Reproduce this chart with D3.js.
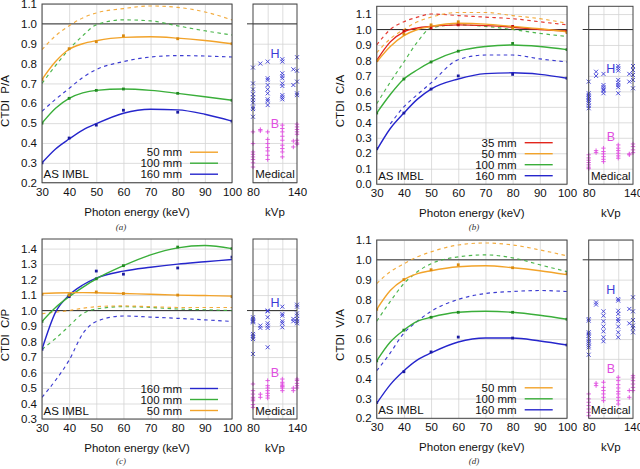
<!DOCTYPE html>
<html><head><meta charset="utf-8">
<script src="https://cdn.jsdelivr.net/npm/d3@7"></script>
<style>
body{margin:0;background:#fff}
svg{display:block}
text{font-family:"Liberation Sans",Arial,sans-serif;font-size:11.5px;fill:#111}
</style>
</head><body>
<svg id="chart" width="640" height="469"></svg>
<script>
// ---------- data ----------
const energyFit = [30, 35, 40, 45, 50, 60, 70, 80, 90, 100];
const energyPts = [30, 40, 50, 60, 80, 100];
const medKvp = [80, 90, 100, 120, 135, 140];
const xTicks = [30, 40, 50, 60, 70, 80, 90, 100];
const kvpTicks = [80, 140];
const kvpGrid = [100, 120];

// panel (a) CTDI P/A
const aFit50  = [0.72, 0.81, 0.872, 0.90, 0.915, 0.932, 0.935, 0.928, 0.916, 0.90];
const aDash50 = [0.87, 0.94, 0.99, 1.03, 1.055, 1.077, 1.09, 1.083, 1.06, 1.02];
const aFit100 = [0.50, 0.575, 0.625, 0.652, 0.665, 0.672, 0.665, 0.65, 0.633, 0.615];
const aDash100= [0.70, 0.79, 0.872, 0.94, 0.995, 1.02, 1.015, 0.99, 0.965, 0.944];
const aFit160 = [0.30, 0.37, 0.42, 0.465, 0.497, 0.55, 0.57, 0.567, 0.545, 0.51];
const aDash160= [0.56, 0.62, 0.675, 0.73, 0.77, 0.81, 0.833, 0.84, 0.838, 0.833];
const aPts50  = [0.72, 0.875, 0.91, 0.94, 0.925, 0.90];
const aPts100 = [0.50, 0.625, 0.665, 0.672, 0.65, 0.615];
const aPts160 = [0.30, 0.425, 0.49, 0.565, 0.555, 0.51];
const aMedH = [[0.78,0.70,0.67,0.646,0.63,0.616,0.603,0.579,0.571,0.532],[0.80],[0.81,0.726,0.717,0.692,0.67,0.65,0.62,0.611,0.591],[0.822,0.81,0.751,0.737,0.726,0.70,0.687,0.641,0.63,0.62],[0.771,0.692],[0.832,0.764,0.709,0.65,0.641]];
const aMedB = [[0.456,0.397,0.355,0.343,0.33,0.317,0.30,0.279],[0.468,0.461],[0.456,0.418,0.397,0.377,0.36,0.338,0.317],[0.49,0.473,0.456,0.434,0.414,0.389,0.372,0.355,0.33],[0.41,0.38],[0.495,0.481,0.468,0.456,0.444,0.414,0.40,0.394]];
const aYTicks = [0.2,0.3,0.4,0.5,0.6,0.7,0.8,0.9,1.0,1.1];

// panel (b) CTDI C/A
const bFit35  = [0.80, 0.92, 0.985, 1.01, 1.02, 1.03, 1.025, 1.015, 1.0, 0.99];
const bDash35 = [0.90, 1.0, 1.05, 1.08, 1.10, 1.09, 1.08, 1.07, 1.05, 1.03];
const bFit50  = [0.79, 0.89, 0.96, 1.0, 1.02, 1.04, 1.035, 1.02, 1.005, 0.985];
const bDash50 = [0.85, 0.94, 1.0, 1.05, 1.08, 1.11, 1.11, 1.09, 1.07, 1.04];
const bFit100 = [0.46, 0.58, 0.68, 0.74, 0.79, 0.86, 0.89, 0.90, 0.89, 0.87];
const bDash100= [0.52, 0.66, 0.79, 0.92, 1.01, 1.03, 1.02, 1.0, 0.975, 0.955];
const bFit160 = [0.22, 0.36, 0.46, 0.55, 0.615, 0.68, 0.715, 0.72, 0.71, 0.685];
const bDash160= [null, 0.39, 0.50, 0.58, 0.655, 0.805, 0.835, 0.835, 0.81, 0.79];
const bPts35  = [0.80, 0.99, 1.01, 1.03, 1.02, 0.99];
const bPts50  = [0.80, 0.97, 1.03, 1.05, 1.01, 0.98];
const bPts100 = [0.46, 0.68, 0.79, 0.86, 0.91, 0.87];
const bPts160 = [0.23, 0.46, 0.615, 0.70, 0.71, 0.685];
const bMedH = [[0.663,0.588,0.577,0.566,0.556,0.545,0.534,0.523,0.506,0.491],[0.727,0.70],[0.713,0.641,0.627,0.614,0.605,0.588],[0.764,0.749,0.734,0.674,0.656,0.641,0.627,0.588],[0.713,0.663],[0.764,0.738,0.706,0.674,0.62]];
const bMedB = [[0.19,0.17,0.155,0.14,0.125,0.11,0.10],[0.217,0.204],[0.233,0.211,0.196,0.178,0.161,0.146],[0.254,0.233,0.217,0.20,0.183,0.168],[0.196,0.19],[0.26,0.243,0.222,0.204]];
const bYTicks = [0.0,0.1,0.2,0.3,0.4,0.5,0.6,0.7,0.8,0.9,1.0,1.1];

// panel (c) CTDI C/P
const cFit160 = [0.75, 0.99, 1.10, 1.165, 1.21, 1.255, 1.28, 1.30, 1.315, 1.33];
const cDash160= [0.44, 0.55, 0.68, 0.85, 0.93, 0.965, 0.958, 0.95, 0.94, 0.93];
const cFit100 = [0.93, 1.02, 1.09, 1.15, 1.205, 1.29, 1.36, 1.405, 1.42, 1.40];
const cDash100= [0.75, 0.82, 0.90, 0.98, 1.01, 1.025, 1.02, 1.01, 1.005, 1.0];
const cFit50  = [1.11, 1.113, 1.115, 1.116, 1.115, 1.11, 1.105, 1.10, 1.097, 1.093];
const cDash50 = [0.98, 0.99, 1.0, 1.015, 1.025, 1.03, 1.025, 1.02, 1.02, 1.02];
const cPts160 = [0.75, 1.09, 1.255, 1.235, 1.275, 1.345];
const cPts100 = [0.93, 1.10, 1.205, 1.29, 1.41, 1.40];
const cPts50  = [1.105, 1.10, 1.12, 1.11, 1.10, 1.09];
const cMedH = [[0.957,0.946,0.936,0.931,0.924,0.849,0.838,0.827,0.816,0.72],[0.903,0.888],[1.0,0.995,0.957,0.918,0.903,0.888,0.763],[1.025,0.978,0.967,0.931,0.918,0.892],[0.946,0.931],[1.038,1.025,0.982,0.967,0.946,0.931,0.918]];
const cMedB = [[0.526,0.483,0.461,0.44,0.429,0.418,0.393,0.375],[0.46,0.44],[0.548,0.515,0.5,0.483,0.466,0.45,0.435],[0.558,0.537,0.526,0.515,0.509,0.5,0.483],[0.5,0.483],[0.558,0.548,0.53,0.515,0.5]];
const cYTicks = [0.3,0.4,0.5,0.6,0.7,0.8,0.9,1.0,1.1,1.2,1.3,1.4];

// panel (d) CTDI V/A
const dFit50  = [0.75, 0.845, 0.90, 0.93, 0.945, 0.965, 0.97, 0.96, 0.945, 0.925];
const dDash50 = [0.88, 0.94, 0.98, 1.015, 1.04, 1.075, 1.085, 1.075, 1.05, 1.02];
const dFit100 = [0.49, 0.585, 0.645, 0.69, 0.71, 0.735, 0.74, 0.735, 0.72, 0.70];
const dDash100= [0.69, 0.79, 0.88, 0.94, 0.98, 1.015, 1.025, 1.01, 0.975, 0.94];
const dFit160 = [0.275, 0.37, 0.44, 0.495, 0.53, 0.585, 0.605, 0.605, 0.59, 0.57];
const dDash160= [0.44, 0.53, 0.63, 0.69, 0.74, 0.80, 0.83, 0.84, 0.845, 0.84];
const dPts50  = [0.75, 0.90, 0.95, 0.975, 0.96, 0.93];
const dPts100 = [0.49, 0.645, 0.71, 0.735, 0.735, 0.70];
const dPts160 = [0.28, 0.435, 0.535, 0.61, 0.605, 0.57];
const dMedH = [[0.701,0.693,0.634,0.626,0.617,0.60,0.589,0.579,0.567,0.558,0.521],[0.785,0.774],[0.74,0.718,0.69,0.663,0.639,0.609,0.589],[0.802,0.794,0.743,0.727,0.701,0.69,0.663,0.634,0.609],[0.752,0.679],[0.811,0.74,0.696,0.668,0.656,0.634]];
const dMedB = [[0.323,0.298,0.281,0.264,0.247,0.23,0.213],[0.377,0.365],[0.382,0.356,0.34,0.323,0.306,0.289],[0.407,0.39,0.37,0.353,0.336,0.323,0.306,0.289,0.272],[0.34,0.306],[0.415,0.404,0.39,0.373,0.356,0.34]];
const dYTicks = [0.2,0.3,0.4,0.5,0.6,0.7,0.8,0.9,1.0,1.1];

// ---------- style ----------
const C = {red:"#e2261c", orange:"#f2a32a", green:"#3aae3a", blue:"#2626cc", h:"#3b3bd6", b:"#e04ee0"};
const PT = {red:"#c81010", orange:"#d98a10", green:"#228a22", blue:"#1a1aa0"};

const panels = [
  {tag:"(a)", title:"CTDI\u00a0\u00a0P/A", x0:42, x1:232, yTop:4, yBot:182.7, yMin:0.2, yMax:1.1, yTicks:aYTicks,
   mx0:253, mx1:297, capX:121, capY:230, hV:0.852, bV:0.50, ty:101,
   series:[{n:"50 mm",c:"orange",fit:aFit50,dash:aDash50,pts:aPts50},{n:"100 mm",c:"green",fit:aFit100,dash:aDash100,pts:aPts100},{n:"160 mm",c:"blue",fit:aFit160,dash:aDash160,pts:aPts160}],
   medH:aMedH, medB:aMedB},
  {tag:"(b)", title:"CTDI\u00a0\u00a0C/A", x0:376.7, x1:567, yTop:6.3, yBot:184.2, yMin:0.0, yMax:1.15, yTicks:bYTicks,
   mx0:588.7, mx1:633, capX:474, capY:230, hV:0.749, bV:0.307, ty:101,
   series:[{n:"35 mm",c:"red",fit:bFit35,dash:bDash35,pts:bPts35},{n:"50 mm",c:"orange",fit:bFit50,dash:bDash50,pts:bPts50},{n:"100 mm",c:"green",fit:bFit100,dash:bDash100,pts:bPts100},{n:"160 mm",c:"blue",fit:bFit160,dash:bDash160,pts:bPts160}],
   medH:bMedH, medB:bMedB},
  {tag:"(c)", title:"CTDI\u00a0\u00a0C/P", x0:42, x1:232, yTop:239, yBot:419, yMin:0.3, yMax:1.462, yTicks:cYTicks,
   mx0:253, mx1:297, capX:121, capY:464, hV:1.053, bV:0.601, ty:335,
   series:[{n:"160 mm",c:"blue",fit:cFit160,dash:cDash160,pts:cPts160},{n:"100 mm",c:"green",fit:cFit100,dash:cDash100,pts:cPts100},{n:"50 mm",c:"orange",fit:cFit50,dash:cDash50,pts:cPts50}],
   medH:cMedH, medB:cMedB},
  {tag:"(d)", title:"CTDI\u00a0\u00a0V/A", x0:376.7, x1:567, yTop:240, yBot:418.3, yMin:0.2, yMax:1.1, yTicks:dYTicks,
   mx0:588.7, mx1:633, capX:474, capY:464, hV:0.848, bV:0.449, ty:335,
   series:[{n:"50 mm",c:"orange",fit:dFit50,dash:dDash50,pts:dPts50},{n:"100 mm",c:"green",fit:dFit100,dash:dDash100,pts:dPts100},{n:"160 mm",c:"blue",fit:dFit160,dash:dDash160,pts:dPts160}],
   medH:dMedH, medB:dMedB}
];

const svg = d3.select("#chart");
const fmt = d3.format(".1f");
const styleGrid = s => { s.select(".domain").remove(); s.selectAll("line").attr("stroke", "#d4d4d4").attr("stroke-width", 0.8); };
const styleLab = s => { s.select(".domain").remove(); s.selectAll("text").style("font-size", "11.5px").attr("fill", "#111"); };

panels.forEach((p, pi) => {
  const g = svg.append("g");
  const x = d3.scaleLinear().domain([30, 100]).range([p.x0, p.x1]);
  const y = d3.scaleLinear().domain([p.yMin, p.yMax]).range([p.yBot, p.yTop]);
  const mx = d3.scaleLinear().domain([80, 140]).range([p.mx0, p.mx1]);
  const W = p.x1 - p.x0, H = p.yBot - p.yTop, MW = p.mx1 - p.mx0;

  const clipId = "clip" + pi;
  g.append("clipPath").attr("id", clipId).append("rect")
    .attr("x", p.x0).attr("y", p.yTop).attr("width", W).attr("height", H);
  const mclipId = "mclip" + pi;
  g.append("clipPath").attr("id", mclipId).append("rect")
    .attr("x", p.mx0 - 3).attr("y", p.yTop).attr("width", MW + 6).attr("height", H);

  // grid
  const grid = g.append("g");
  grid.append("g").attr("transform", `translate(0,${p.yBot})`)
    .call(d3.axisBottom(x).tickValues(xTicks).tickSize(-H).tickFormat("")).call(styleGrid);
  grid.append("g").attr("transform", `translate(${p.x0},0)`)
    .call(d3.axisLeft(y).tickValues(p.yTicks).tickSize(-W).tickFormat("")).call(styleGrid);
  grid.append("g").attr("transform", `translate(0,${p.yBot})`)
    .call(d3.axisBottom(mx).tickValues(kvpGrid).tickSize(-H).tickFormat("")).call(styleGrid);
  grid.append("g").attr("transform", `translate(${p.mx0},0)`)
    .call(d3.axisLeft(y).tickValues(p.yTicks).tickSize(-MW).tickFormat("")).call(styleGrid);

  // axis labels
  g.append("g").attr("transform", `translate(${p.x0 - 5},0)`)
    .call(d3.axisLeft(y).tickValues(p.yTicks).tickSize(0).tickPadding(0).tickFormat(fmt)).call(styleLab);
  g.append("g").attr("transform", `translate(0,${p.yBot + 5})`)
    .call(d3.axisBottom(x).tickValues(xTicks).tickSize(0).tickPadding(0).tickFormat(d3.format("d"))).call(styleLab);
  g.append("g").attr("transform", `translate(0,${p.yBot + 5})`)
    .call(d3.axisBottom(mx).tickValues(kvpTicks).tickSize(0).tickPadding(0).tickFormat(d3.format("d"))).call(styleLab);

  // reference line at 1.0
  g.append("line").attr("x1", p.x0).attr("x2", p.x1).attr("y1", y(1)).attr("y2", y(1))
    .attr("stroke", "#333").attr("stroke-width", 1);
  g.append("line").attr("x1", p.mx0 - 6).attr("x2", p.mx1).attr("y1", y(1)).attr("y2", y(1))
    .attr("stroke", "#333").attr("stroke-width", 1);

  // curves
  const plot = g.append("g").attr("clip-path", `url(#${clipId})`);
  const line = d3.line().defined(d => d[1] != null)
    .x(d => x(d[0])).y(d => y(d[1])).curve(d3.curveMonotoneX);
  p.series.forEach(s => {
    plot.append("path").datum(energyFit.map((e, i) => [e, s.dash[i]]))
      .attr("d", line).attr("fill", "none").attr("stroke", C[s.c])
      .attr("stroke-width", 1.15).attr("stroke-dasharray", "3.5,3.5").attr("opacity", 0.9);
  });
  p.series.forEach(s => {
    plot.append("path").datum(energyFit.map((e, i) => [e, s.fit[i]]))
      .attr("d", line).attr("fill", "none").attr("stroke", C[s.c]).attr("stroke-width", 1.4);
  });
  p.series.forEach(s => {
    plot.selectAll(null).data(energyPts.map((e, i) => [e, s.pts[i]])).enter().append("rect")
      .attr("x", d => x(d[0]) - 1.4).attr("y", d => y(d[1]) - 1.4)
      .attr("width", 2.8).attr("height", 2.8).attr("fill", PT[s.c]);
  });

  // medical scatter
  const med = g.append("g").attr("clip-path", `url(#${mclipId})`);
  const hPts = [], bPts = [];
  p.medH.forEach((arr, i) => arr.forEach(v => hPts.push([medKvp[i], v])));
  p.medB.forEach((arr, i) => arr.forEach(v => bPts.push([medKvp[i], v])));
  const r = 2;
  med.selectAll(null).data(hPts).enter().append("path")
    .attr("d", d => { const cx = mx(d[0]), cy = y(d[1]); return `M${cx-r},${cy-r}L${cx+r},${cy+r}M${cx-r},${cy+r}L${cx+r},${cy-r}`; })
    .attr("stroke", C.h).attr("stroke-width", 0.9).attr("fill", "none");
  const r2 = 2.2;
  med.selectAll(null).data(bPts).enter().append("path")
    .attr("d", d => { const cx = mx(d[0]), cy = y(d[1]); return `M${cx-r2},${cy}L${cx+r2},${cy}M${cx},${cy-r2}L${cx},${cy+r2}`; })
    .attr("stroke", C.b).attr("stroke-width", 0.9).attr("fill", "none");

  // frames
  g.append("rect").attr("x", p.x0).attr("y", p.yTop).attr("width", W).attr("height", H)
    .attr("fill", "none").attr("stroke", "#444").attr("stroke-width", 1);
  g.append("rect").attr("x", p.mx0).attr("y", p.yTop).attr("width", MW).attr("height", H)
    .attr("fill", "none").attr("stroke", "#444").attr("stroke-width", 1);

  // in-panel labels
  g.append("text").attr("x", p.x0 + 1.5).attr("y", p.yBot - 4.5).text("AS IMBL");
  g.append("text").attr("x", (p.mx0 + p.mx1) / 2).attr("y", p.yBot - 4.5).attr("text-anchor", "middle").text("Medical");
  g.append("text").attr("x", (p.mx0 + p.mx1) / 2).attr("y", y(p.hV)).attr("dy", "0.35em")
    .attr("text-anchor", "middle").style("font-size", "12.5px").style("fill", C.h).text("H");
  g.append("text").attr("x", (p.mx0 + p.mx1) / 2).attr("y", y(p.bV)).attr("dy", "0.35em")
    .attr("text-anchor", "middle").style("font-size", "12.5px").style("fill", C.b).text("B");

  // legend
  const n = p.series.length;
  p.series.forEach((s, i) => {
    const ly = p.yBot - 8.5 - 11 * (n - 1 - i);
    g.append("text").attr("x", p.x0 + 140).attr("y", ly).attr("dy", "0.35em")
      .attr("text-anchor", "end").text(s.n);
    g.append("line").attr("x1", p.x0 + 148).attr("x2", p.x0 + 176).attr("y1", ly).attr("y2", ly)
      .attr("stroke", C[s.c]).attr("stroke-width", 1.4);
  });

  // axis titles
  g.append("text").attr("x", (p.x0 + p.x1) / 2).attr("y", p.yBot + 33).attr("text-anchor", "middle")
    .text("Photon energy (keV)");
  g.append("text").attr("x", (p.mx0 + p.mx1) / 2).attr("y", p.yBot + 33).attr("text-anchor", "middle")
    .text("kVp");
  g.append("text").attr("transform", `translate(${p.x0 - 33},${p.ty}) rotate(-90)`)
    .attr("text-anchor", "middle").text(p.title);
  // caption
  g.append("text").attr("x", p.capX).attr("y", p.capY).attr("text-anchor", "middle")
    .style("font-family", "'Liberation Serif','DejaVu Serif',serif").style("font-style", "italic")
    .style("font-size", "9px").style("fill", "#333").text(p.tag);
});
</script>
</body></html>
